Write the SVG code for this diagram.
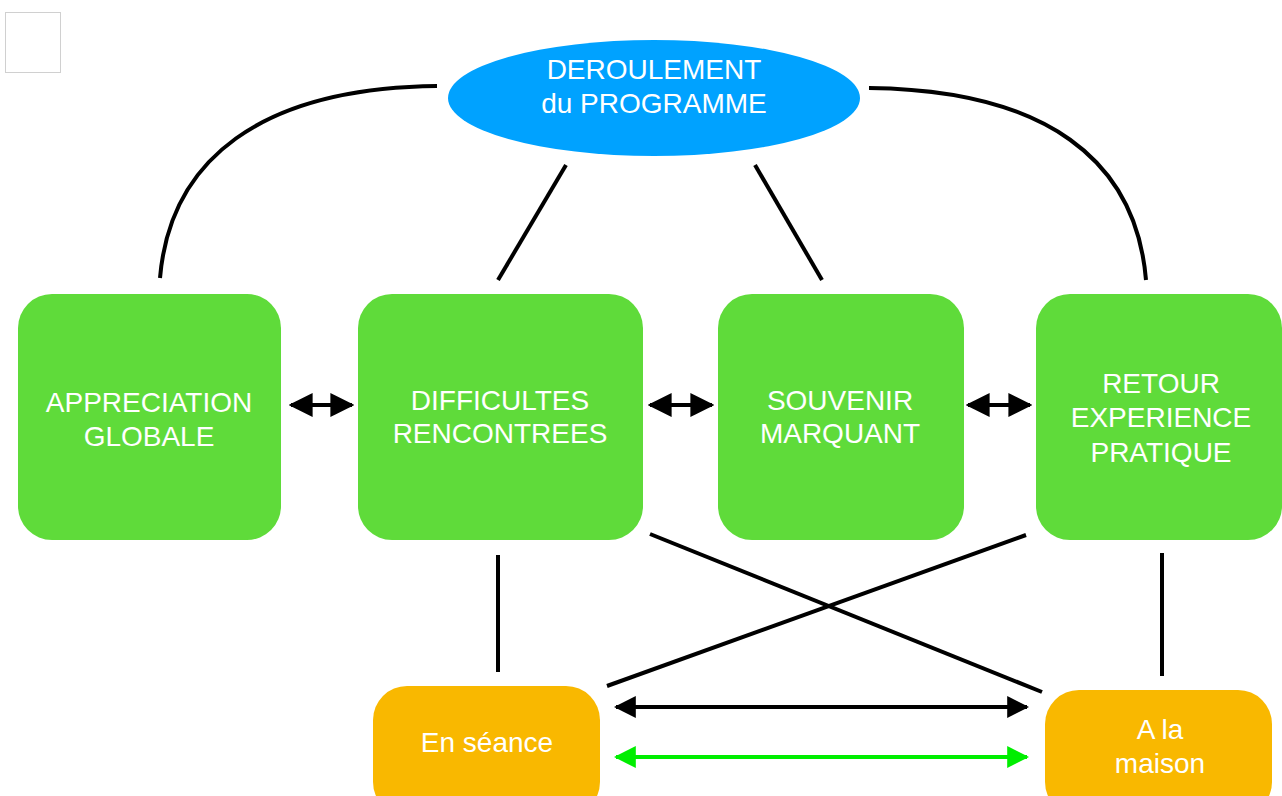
<svg xmlns="http://www.w3.org/2000/svg" width="1282" height="796" viewBox="0 0 1282 796">
<defs>
<style>
.g{fill:#5fdb3a}
.o{fill:#f9b800}
.t{font-family:"Liberation Sans",Arial,sans-serif;font-size:28px;fill:#fff;text-anchor:middle}
.c{fill:none;stroke:#000;stroke-width:4}
.a{fill:none;stroke:#000;stroke-width:4}
.ag{fill:none;stroke:#00ee00;stroke-width:4}
</style>
<marker id="mk" viewBox="0 0 10 10" refX="9" refY="5" markerUnits="userSpaceOnUse" markerWidth="22" markerHeight="22" orient="auto-start-reverse"><path d="M0,0L10,5L0,10Z" fill="#000"/></marker>
<marker id="mr" viewBox="0 0 10 10" refX="9" refY="5" markerUnits="userSpaceOnUse" markerWidth="24" markerHeight="24" orient="auto-start-reverse"><path d="M0,0L10,5L0,10Z" fill="#000"/></marker>
<marker id="mg" viewBox="0 0 10 10" refX="9" refY="5" markerUnits="userSpaceOnUse" markerWidth="22" markerHeight="22" orient="auto-start-reverse"><path d="M0,0L10,5L0,10Z" fill="#00ee00"/></marker>
</defs>
<rect x="0" y="0" width="1282" height="796" fill="#fff"/>
<rect x="5.5" y="12.5" width="55" height="60" fill="#fff" stroke="#d0d0d0" stroke-width="1"/>
<g id="connectors">
<path class="c" d="M160,278 C170,160 260,88 437,86"/>
<path class="c" d="M1146,280 C1136,160 1046,90 869,88"/>
<line class="c" x1="498" y1="280" x2="566" y2="165"/>
<line class="c" x1="822" y1="280" x2="755" y2="165"/>
<line class="c" x1="498" y1="555" x2="498" y2="672"/>
<line class="c" x1="1162" y1="553" x2="1162" y2="676"/>
<line class="c" x1="650" y1="534" x2="1042" y2="692"/>
<line class="c" x1="1026" y1="535" x2="607" y2="686"/>
<line class="a" x1="291" y1="405" x2="352" y2="405" marker-start="url(#mr)" marker-end="url(#mr)"/>
<line class="a" x1="650" y1="405" x2="712" y2="405" marker-start="url(#mr)" marker-end="url(#mr)"/>
<line class="a" x1="968" y1="405" x2="1030" y2="405" marker-start="url(#mr)" marker-end="url(#mr)"/>
<line class="a" x1="616" y1="707" x2="1027" y2="707" marker-start="url(#mk)" marker-end="url(#mk)"/>
<line class="ag" x1="616" y1="757" x2="1027" y2="757" marker-start="url(#mg)" marker-end="url(#mg)"/>
</g>
<g id="deroulement">
<ellipse cx="654" cy="98" rx="206" ry="58" fill="#00a2ff"/>
<text class="t" x="654" y="79">DEROULEMENT</text>
<text class="t" x="654" y="113">du PROGRAMME</text>
</g>
<g id="appreciation">
<rect class="g" x="18" y="294" width="263" height="246" rx="34"/>
<text class="t" x="149" y="412">APPRECIATION</text>
<text class="t" x="149" y="446">GLOBALE</text>
</g>
<g id="difficultes">
<rect class="g" x="358" y="294" width="285" height="246" rx="34"/>
<text class="t" x="500" y="410">DIFFICULTES</text>
<text class="t" x="500" y="443">RENCONTREES</text>
</g>
<g id="souvenir">
<rect class="g" x="718" y="294" width="246" height="246" rx="34"/>
<text class="t" x="840" y="410">SOUVENIR</text>
<text class="t" x="840" y="443">MARQUANT</text>
</g>
<g id="retour">
<rect class="g" x="1036" y="294" width="246" height="246" rx="34"/>
<text class="t" x="1161" y="393">RETOUR</text>
<text class="t" x="1161" y="427">EXPERIENCE</text>
<text class="t" x="1161" y="462">PRATIQUE</text>
</g>
<g id="seance">
<rect class="o" x="373" y="686" width="227" height="130" rx="34"/>
<text class="t" x="487" y="752">En séance</text>
</g>
<g id="maison">
<rect class="o" x="1045" y="690" width="227" height="126" rx="34"/>
<text class="t" x="1160" y="739">A la</text>
<text class="t" x="1160" y="773">maison</text>
</g>
</svg>
